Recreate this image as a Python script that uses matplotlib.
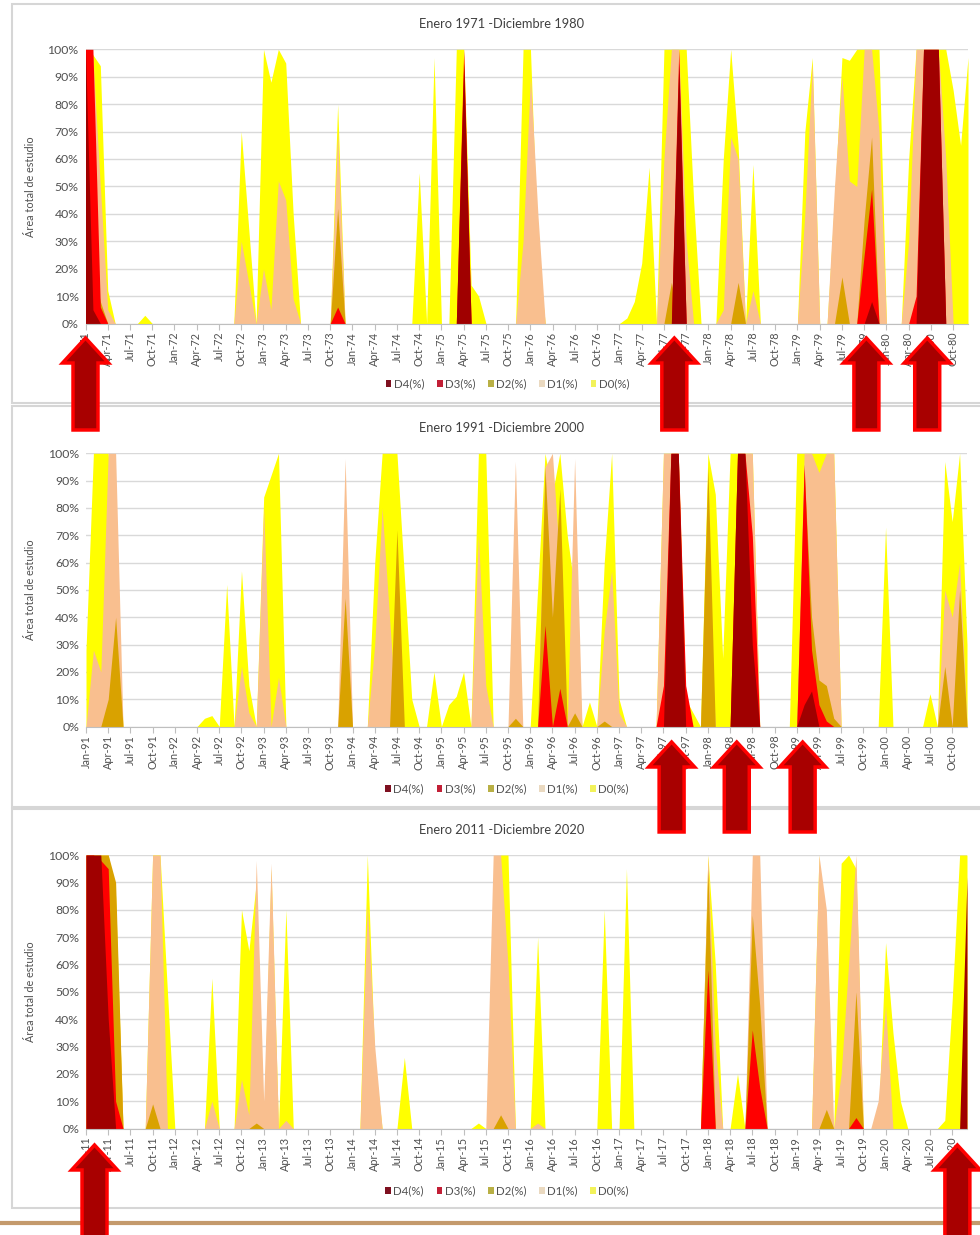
import matplotlib
matplotlib.use('Agg')
import matplotlib.pyplot as plt
import numpy as np
import pandas as pd
from matplotlib.patches import Patch, Polygon, Rectangle
from matplotlib.lines import Line2D

plt.rcParams['font.family'] = ['Lato', 'DejaVu Sans']

#%%
############### DATA ###############################
# month index (0 = January of the first year) -> % of study area
titles = ['Enero 1971 -Diciembre 1980', 'Enero 1991 -Diciembre 2000', 'Enero 2011 -Diciembre 2020']
start_years = [1971, 1991, 2011]
series_names = ['D0(%)', 'D1(%)', 'D2(%)', 'D3(%)', 'D4(%)']

########### 1971 - 1980 ###########
d0_71 = {0: 100, 1: 98, 2: 94, 3: 12, 8: 3, 21: 70, 22: 35, 24: 100, 25: 88, 26: 100, 27: 95,
         28: 40, 34: 80, 45: 55, 47: 97, 50: 100, 51: 100, 52: 14, 53: 10, 59: 100, 60: 100,
         61: 25, 73: 2, 74: 8, 75: 22, 76: 57, 78: 100, 79: 100, 80: 100, 81: 100, 82: 45,
         86: 60, 87: 100, 88: 65, 90: 58, 97: 70, 98: 97, 101: 45, 102: 97, 103: 96, 104: 100,
         105: 100, 106: 100, 107: 100, 111: 60, 112: 100, 113: 100, 114: 100, 115: 100,
         116: 100, 117: 85, 118: 65, 119: 97}
d1_71 = {0: 100, 1: 97, 2: 50, 3: 5, 21: 30, 22: 15, 24: 20, 25: 5, 26: 52, 27: 45, 28: 9,
         34: 70, 59: 30, 60: 90, 61: 40, 78: 60, 79: 100, 80: 100, 81: 30, 86: 5, 87: 68,
         88: 60, 90: 12, 97: 40, 98: 95, 101: 50, 102: 90, 103: 52, 104: 50, 105: 100,
         106: 100, 107: 70, 111: 30, 112: 100, 113: 100, 114: 100, 115: 100, 116: 60}
d2_71 = {1: 20, 2: 8, 34: 42, 79: 15, 88: 15, 102: 17, 105: 38, 106: 68}
d3_71 = {0: 100, 1: 100, 2: 6, 34: 6, 51: 100, 80: 100, 105: 25, 106: 49, 112: 10,
         113: 100, 114: 100, 115: 100}
d4_71 = {0: 100, 1: 5, 51: 95, 80: 95, 106: 8, 113: 100, 114: 100, 115: 100}

########### 1991 - 2000 ###########
d0_91 = {0: 28, 1: 100, 2: 100, 3: 100, 4: 60, 16: 3, 17: 4, 19: 52, 21: 57, 22: 15,
         24: 84, 25: 92, 26: 100, 39: 60, 40: 100, 41: 100, 42: 100, 43: 55, 44: 10, 47: 20,
         49: 8, 50: 11, 51: 20, 53: 100, 54: 100, 61: 50, 62: 100, 63: 85, 64: 100, 65: 70,
         66: 50, 68: 9, 70: 60, 71: 100, 72: 10, 78: 100, 79: 100, 80: 100, 81: 10, 82: 5,
         84: 100, 85: 85, 86: 25, 87: 100, 88: 100, 89: 100, 90: 100, 96: 100, 97: 100,
         98: 100, 99: 100, 100: 100, 101: 100, 108: 73, 114: 12, 116: 97, 117: 75, 118: 100,
         119: 30}
d1_91 = {1: 28, 2: 20, 3: 100, 4: 100, 21: 22, 22: 5, 24: 80, 26: 18, 35: 98, 39: 30,
         40: 80, 41: 40, 53: 70, 54: 15, 58: 97, 62: 95, 63: 100, 64: 60, 66: 98, 70: 35,
         71: 57, 72: 5, 78: 100, 79: 100, 80: 100, 84: 60, 89: 100, 90: 100, 97: 100,
         98: 100, 99: 93, 100: 100, 101: 100, 116: 50, 117: 40, 118: 60}
d2_91 = {3: 10, 4: 40, 35: 47, 42: 72, 58: 3, 62: 95, 63: 40, 64: 87, 66: 5, 70: 2, 84: 95,
         97: 94, 98: 40, 99: 17, 100: 15, 101: 3, 116: 22, 118: 50}
d3_91 = {62: 37, 64: 14, 78: 15, 79: 100, 80: 100, 81: 15, 88: 100, 89: 100, 90: 70,
         97: 96, 98: 28, 99: 8, 100: 2}
d4_91 = {79: 100, 80: 100, 88: 100, 89: 100, 90: 30, 97: 8, 98: 13}

########### 2011 - 2020 ###########
d0_11 = {0: 100, 1: 100, 2: 100, 3: 100, 4: 85, 9: 100, 10: 100, 11: 50, 17: 55, 21: 80,
         22: 65, 23: 90, 25: 95, 27: 80, 38: 100, 39: 25, 43: 26, 53: 2, 56: 100, 57: 100,
         61: 70, 70: 80, 73: 95, 84: 100, 85: 60, 88: 20, 99: 100, 100: 20, 102: 97,
         103: 100, 104: 95, 108: 68, 109: 35, 110: 10, 116: 3, 117: 47, 118: 100, 119: 100}
d1_11 = {0: 100, 1: 100, 2: 100, 3: 100, 4: 80, 9: 100, 10: 100, 17: 10, 21: 18, 22: 5,
         23: 98, 24: 10, 25: 97, 27: 3, 38: 82, 39: 30, 55: 100, 56: 100, 57: 60, 61: 2,
         84: 100, 85: 30, 90: 100, 91: 100, 99: 100, 100: 80, 102: 20, 103: 60, 104: 100,
         107: 10, 108: 45}
d2_11 = {0: 100, 1: 100, 2: 100, 3: 100, 4: 90, 9: 9, 23: 2, 56: 5, 84: 95, 90: 78, 91: 45,
         100: 7, 104: 50}
d3_11 = {0: 100, 1: 100, 2: 98, 3: 95, 4: 10, 84: 58, 90: 36, 91: 15, 104: 4}
d4_11 = {0: 100, 1: 100, 2: 100, 3: 40, 119: 92}

panels = [[d0_71, d1_71, d2_71, d3_71, d4_71],
          [d0_91, d1_91, d2_91, d3_91, d4_91],
          [d0_11, d1_11, d2_11, d3_11, d4_11]]

# red arrows under the axis (month index of the arrow)
arrows = [[0, 79.4, 105.3, 113.5], [79.1, 87.9, 96.8], [1.15, 117.7]]

#%%
############### STYLE ##############################
fill_colors = ['#FFFF00', '#F9BF8F', '#D9A200', '#FF0000', '#A00000']
legend_colors = ['#F2F25A', '#EAD9C0', '#B9B045', '#C21F36', '#7E1020']

W, H = 980, 1235
# axes boxes in pixels (left, top, right, bottom)
boxes = [(85.5, 49.3, 968, 323.5), (86, 453.3, 967, 726.5), (86, 855, 967, 1128.5)]
frames = [(12, 4, 403), (12, 406, 807), (12, 809, 1208)]
title_y = [24, 428, 830]
arrow_tip = [338, 742, 1145]
arrow_end = [430, 832, 1245]
legend_y = [-0.221, -0.229, -0.229]

fig = plt.figure(figsize=(W / 100, H / 100), dpi=100)
fig.patch.set_facecolor('white')


def expand(d):
    v = np.zeros(120)
    for k, val in d.items():
        v[k] = val
    return v


def px(x, y):
    return x / W, 1 - y / H


for i in range(3):
    fx0, fy0, fy1 = frames[i]
    fig.patches.append(Rectangle(px(fx0, fy1), (W + 20 - fx0) / W, (fy1 - fy0) / H,
                                 transform=fig.transFigure, facecolor='white',
                                 edgecolor='#D6D6D6', lw=1.5, zorder=-1))

    l, t, r, b = boxes[i]
    ax = fig.add_axes([l / W, 1 - b / H, (r - l) / W, (b - t) / H])
    months = np.arange(120)
    for k in range(5):
        ax.fill_between(months, 0, expand(panels[i][k]), color=fill_colors[k], lw=0, zorder=2 + k)

    ax.set_xlim(0, 119)
    ax.set_ylim(0, 100)
    ax.set_yticks(np.arange(0, 101, 10))
    ax.set_yticklabels([f'{v}%' for v in range(0, 101, 10)], fontsize=8.8, color='#505050')
    dates = pd.date_range(f'{start_years[i]}-01-01', periods=120, freq='MS')
    ax.set_xticks(months[::3])
    ax.set_xticklabels([d.strftime('%b-%y') for d in dates[::3]], rotation=90,
                       fontsize=7.8, color='#505050')
    ax.tick_params(axis='x', length=4, color='#BFBFBF', pad=2)
    ax.tick_params(axis='y', length=0, pad=5)
    ax.grid(axis='y', color='#D9D9D9', lw=1, zorder=1)
    ax.set_axisbelow(True)
    for s in ['top', 'right', 'left']:
        ax.spines[s].set_visible(False)
    ax.spines['bottom'].set_color('#BFBFBF')
    ax.spines['bottom'].set_zorder(8)

    fig.text(502 / W, 1 - title_y[i] / H, titles[i], ha='center', va='center',
             fontsize=9.3, color='#404040')
    fig.text(30 / W, 1 - (t + b) / 2 / H, 'Área total de estudio', rotation=90,
             ha='center', va='center', fontsize=7.8, color='#505050')

    handles = [Patch(facecolor=legend_colors[k], edgecolor='none') for k in range(4, -1, -1)]
    ax.legend(handles, series_names[::-1], loc='center', bbox_to_anchor=(0.478, legend_y[i]),
              ncol=5, frameon=False, handlelength=0.5, handleheight=0.5, handletextpad=0.2,
              columnspacing=1.1, fontsize=8.3, labelcolor='#505050')

    # red arrows
    fig.canvas.draw()
    for m in arrows[i]:
        cx = ax.transData.transform((m, 0))[0]
        cy_tip = arrow_tip[i]
        hw, sw, hl = 23, 12.5, 25
        pts = [(cx, cy_tip), (cx + hw, cy_tip + hl), (cx + sw, cy_tip + hl), (cx + sw, arrow_end[i]),
               (cx - sw, arrow_end[i]), (cx - sw, cy_tip + hl), (cx - hw, cy_tip + hl)]
        poly = Polygon([(p[0] / W, 1 - p[1] / H) for p in pts], closed=True,
                       transform=fig.transFigure, facecolor='#A80000', edgecolor='#FF0000',
                       lw=2.5, zorder=20)
        fig.patches.append(poly)

fig.lines.append(Line2D([0, 1], [1 - 1223 / H] * 2, transform=fig.transFigure,
                        color='#C49A6C', lw=3, zorder=5))

plt.savefig('out.png', dpi=100)
